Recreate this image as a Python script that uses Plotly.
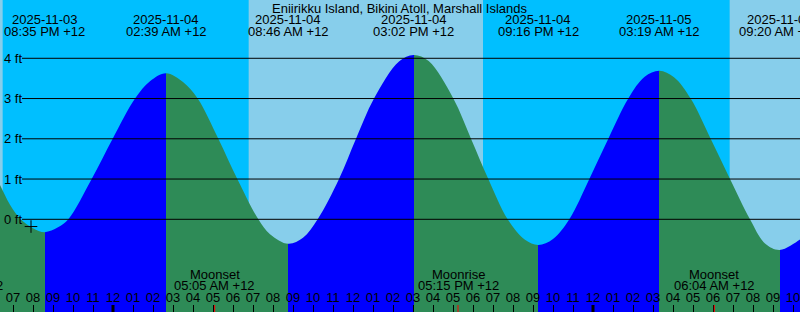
import plotly.graph_objects as go
import pandas as pd

TITLE = "Eniirikku Island, Bikini Atoll, Marshall Islands"

# Tide height readings (local time, UTC+12), feet
TIDE_TIME = [
    "2025-11-03 18:00", "2025-11-03 18:21", "2025-11-03 18:51", "2025-11-03 19:23",
    "2025-11-03 20:00", "2025-11-03 20:35", "2025-11-03 21:15", "2025-11-03 21:46",
    "2025-11-03 22:56", "2025-11-03 23:59", "2025-11-04 01:06", "2025-11-04 01:51",
    "2025-11-04 02:39", "2025-11-04 03:30", "2025-11-04 04:14", "2025-11-04 05:16",
    "2025-11-04 06:13", "2025-11-04 07:16", "2025-11-04 07:51", "2025-11-04 08:46",
    "2025-11-04 09:30", "2025-11-04 10:14", "2025-11-04 11:18", "2025-11-04 12:09",
    "2025-11-04 13:03", "2025-11-04 14:18", "2025-11-04 15:02", "2025-11-04 15:47",
    "2025-11-04 17:01", "2025-11-04 17:54", "2025-11-04 18:46", "2025-11-04 19:44",
    "2025-11-04 20:36", "2025-11-04 21:16", "2025-11-04 22:00", "2025-11-04 22:49",
    "2025-11-04 23:49", "2025-11-05 00:46", "2025-11-05 01:46", "2025-11-05 02:35",
    "2025-11-05 03:19", "2025-11-05 04:03", "2025-11-05 04:53", "2025-11-05 05:53",
    "2025-11-05 06:51", "2025-11-05 07:51", "2025-11-05 08:36", "2025-11-05 09:20",
    "2025-11-05 10:21", "2025-11-05 10:40",
]
TIDE_FT = [
    1.18, 0.85, 0.36, 0.00,
    -0.22, -0.32, -0.20, 0.00,
    1.00, 2.00, 3.00, 3.43,
    3.63, 3.41, 3.00, 2.00,
    1.00, 0.00, -0.37, -0.61,
    -0.46, 0.00, 1.00, 2.00,
    3.00, 3.92, 4.08, 3.93,
    3.00, 2.00, 1.00, 0.00,
    -0.51, -0.64, -0.49, 0.00,
    1.00, 2.00, 3.00, 3.54,
    3.69, 3.53, 3.00, 2.00,
    1.00, 0.00, -0.60, -0.76,
    -0.50, -0.38,
]

# High / low tide events
EVENT_TIME = ["2025-11-03 20:35", "2025-11-04 02:39", "2025-11-04 08:46", "2025-11-04 15:02",
              "2025-11-04 21:16", "2025-11-05 03:19", "2025-11-05 09:20"]
EVENT_DATE = ["2025-11-03", "2025-11-04", "2025-11-04", "2025-11-04",
              "2025-11-04", "2025-11-05", "2025-11-05"]
EVENT_CLOCK = ["08:35 PM +12", "02:39 AM +12", "08:46 AM +12", "03:02 PM +12",
               "09:16 PM +12", "03:19 AM +12", "09:20 AM +12"]

# Moon events
MOON_TIME = ["2025-11-03 16:28", "2025-11-04 05:05", "2025-11-04 17:15", "2025-11-05 06:04"]
MOON_NAME = ["Moonrise", "Moonset", "Moonrise", "Moonset"]
MOON_CLOCK = ["04:28 PM +12", "05:05 AM +12", "05:15 PM +12", "06:04 AM +12"]

# Daylight intervals
SUNRISE = ["2025-11-03 06:46", "2025-11-04 06:47", "2025-11-05 06:50"]
SUNSET = ["2025-11-03 18:29", "2025-11-04 18:30", "2025-11-05 18:31"]

MIDNIGHTS = ["2025-11-04 00:00", "2025-11-05 00:00"]
NOW_TIME = ["2025-11-03 19:54"]
NOW_FT = [-0.18]
Y_TICKS = [0, 1, 2, 3, 4]

X_RANGE = ["2025-11-03 18:21", "2025-11-05 10:21"]
Y_RANGE = [-2.303, 5.448]

NIGHT = "#00BFFF"
DAY = "#87CEEB"
RISING = "#0000FF"
FALLING = "#2E8B57"
FONT = "Liberation Sans, Arial, sans-serif"
FLOOR = -3.0
W, H = 800, 312


def py(px):
    return 1 - px / H


x0, x1 = pd.Timestamp(X_RANGE[0]), pd.Timestamp(X_RANGE[1])


def px_frac(t):
    return (pd.Timestamp(t) - x0) / (x1 - x0)


# colour stops: blue while rising, green while falling, switching at each tide event
t_first, t_last = pd.Timestamp(TIDE_TIME[0]), pd.Timestamp(TIDE_TIME[-1])
idx = [0] + [TIDE_TIME.index(e) for e in EVENT_TIME] + [len(TIDE_TIME) - 1]
scale = []
for a, b in zip(idx[:-1], idx[1:]):
    color = RISING if TIDE_FT[b] > TIDE_FT[a] else FALLING
    fa = (pd.Timestamp(TIDE_TIME[a]) - t_first) / (t_last - t_first)
    fb = (pd.Timestamp(TIDE_TIME[b]) - t_first) / (t_last - t_first)
    scale += [[fa, color], [fb, color]]

fig = go.Figure()
fig.add_trace(go.Scatter(x=[TIDE_TIME[0], TIDE_TIME[-1]], y=[FLOOR, FLOOR], mode="lines",
                         line=dict(width=0), hoverinfo="skip"))
fig.add_trace(go.Scatter(x=TIDE_TIME, y=TIDE_FT, mode="lines", fill="tonexty",
                         fillgradient=dict(type="horizontal", colorscale=scale),
                         line=dict(width=0, shape="spline", color=RISING), hoverinfo="skip"))

# current time marker
fig.add_trace(go.Scatter(x=NOW_TIME, y=NOW_FT, mode="markers",
                         marker=dict(symbol="cross-thin", size=9,
                                     line=dict(color="black", width=1)),
                         hoverinfo="skip"))

shapes = []
for sr, ss in zip(SUNRISE, SUNSET):
    shapes.append(dict(type="rect", xref="x", yref="paper", x0=sr, x1=ss, y0=0, y1=1,
                       fillcolor=DAY, line=dict(width=0), layer="below"))
for v in Y_TICKS:
    shapes.append(dict(type="line", xref="paper", yref="y", x0=22 / W, x1=1, y0=v, y1=v,
                       line=dict(color="black", width=1), layer="above"))
for m in MIDNIGHTS:
    shapes.append(dict(type="line", xref="x", yref="paper", x0=m, x1=m, y0=0, y1=7 / H,
                       line=dict(color="black", width=3), layer="above"))
for m in MOON_TIME:
    shapes.append(dict(type="line", xref="x", yref="paper", x0=m, x1=m, y0=0, y1=7 / H,
                       line=dict(color="red", width=1), layer="above"))

font = dict(family=FONT, size=13, color="black")
ann = [dict(text=TITLE, xref="paper", yref="paper", x=0.5, y=py(8), xanchor="center",
            yanchor="middle", showarrow=False, font=font)]
for t, d, c in zip(EVENT_TIME, EVENT_DATE, EVENT_CLOCK):
    ann.append(dict(text=d, xref="x", yref="paper", x=t, y=py(19.5), xanchor="center",
                    yanchor="middle", showarrow=False, font=font))
    ann.append(dict(text=c, xref="x", yref="paper", x=t, y=py(31.5), xanchor="center",
                    yanchor="middle", showarrow=False, font=font))
for t, n, c in zip(MOON_TIME, MOON_NAME, MOON_CLOCK):
    ann.append(dict(text=n, xref="paper", yref="paper", x=px_frac(t), y=py(274),
                    xanchor="center", yanchor="middle", showarrow=False, font=font))
    ann.append(dict(text=c, xref="paper", yref="paper", x=px_frac(t), y=py(285.5),
                    xanchor="center", yanchor="middle", showarrow=False, font=font))
for v in Y_TICKS:
    ann.append(dict(text=f"{v} ft", xref="paper", yref="y", x=0, y=v, xshift=2,
                    xanchor="left", yanchor="middle", showarrow=False, font=font))

fig.update_layout(
    width=W, height=H, margin=dict(l=0, r=0, t=0, b=0),
    paper_bgcolor=NIGHT, plot_bgcolor=NIGHT, showlegend=False,
    shapes=shapes, annotations=ann,
    xaxis=dict(type="date", range=X_RANGE, tickformat="%I", dtick=3600000,
               tick0="2025-11-04 00:00", ticks="inside", ticklen=7, tickwidth=1,
               tickcolor="black", ticklabelposition="inside", ticklabeloverflow="allow",
               layer="above traces", showgrid=False, zeroline=False, showline=False,
               tickfont=font, fixedrange=True),
    yaxis=dict(range=Y_RANGE, visible=False, fixedrange=True),
)

fig.write_html("out.html")
